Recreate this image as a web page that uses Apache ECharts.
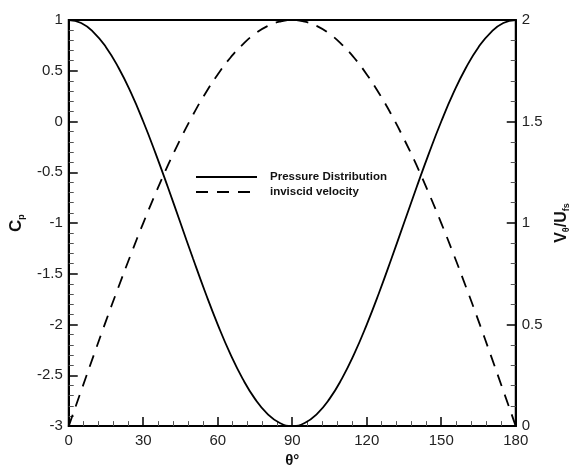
<!DOCTYPE html>
<html>
<head>
<meta charset="utf-8">
<script src="https://cdn.jsdelivr.net/npm/echarts@6/dist/echarts.min.js"></script>
<style>html,body{margin:0;padding:0;background:#fff;}#c{width:579px;height:473px;}</style>
</head>
<body>
<div id="c"></div>
<script>
var theta = [0,5,10,15,20,25,30,35,40,45,50,55,60,65,70,75,80,85,90,95,100,105,110,115,120,125,130,135,140,145,150,155,160,165,170,175,180];
var pressureCp = [1.0,0.970,0.879,0.732,0.532,0.286,0.0,-0.316,-0.653,-1.0,-1.347,-1.684,-2.0,-2.286,-2.532,-2.732,-2.879,-2.970,-3.0,-2.970,-2.879,-2.732,-2.532,-2.286,-2.0,-1.684,-1.347,-1.0,-0.653,-0.316,0.0,0.286,0.532,0.732,0.879,0.970,1.0];
var inviscidVelocity = [0.0,0.174,0.347,0.518,0.684,0.845,1.0,1.147,1.286,1.414,1.532,1.638,1.732,1.813,1.879,1.932,1.970,1.992,2.0,1.992,1.970,1.932,1.879,1.813,1.732,1.638,1.532,1.414,1.286,1.147,1.0,0.845,0.684,0.518,0.347,0.174,0.0];
var seriesNames = ['Pressure Distribution','inviscid velocity'];

function pairs(xs, ys){ return xs.map(function(x,i){ return [x, ys[i]]; }); }

var font = '"Liberation Sans", Arial, sans-serif';
var labelStyle = {color:'#222', fontSize:15, fontFamily:font};
var chart = echarts.init(document.getElementById('c'), null, {renderer:'canvas'});
chart.setOption({
  animation:false,
  backgroundColor:'#fff',
  grid:{left:66, right:55, top:20, bottom:35, show:true, borderColor:'#000', borderWidth:2, containLabel:false},
  legend:{
    orient:'vertical', left:190, top:166, itemWidth:61, itemHeight:12, itemGap:3,
    data:seriesNames,
    itemStyle:{opacity:0},
    textStyle:{color:'#111', fontSize:11.5, fontWeight:'bold', fontFamily:font, padding:[0,0,0,8]},
    selectedMode:false
  },
  xAxis:{
    type:'value', min:0, max:180, interval:30,
    name:'θ°', nameLocation:'middle', nameGap:19,
    nameTextStyle:{color:'#111', fontSize:15, fontWeight:'bold', fontFamily:font, verticalAlign:'top'},
    axisLine:{show:true, onZero:false, lineStyle:{color:'#000', width:2}},
    axisTick:{show:true, inside:true, length:9, lineStyle:{color:'#000', width:1.5}},
    minorTick:{show:true, splitNumber:5, length:5, lineStyle:{color:'#555', width:1}},
    axisLabel:Object.assign({margin:7}, labelStyle),
    splitLine:{show:false}
  },
  yAxis:[{
    type:'value', min:-3, max:1, interval:0.5, position:'left',
    name:'{b|C}{s|p}', nameLocation:'middle', nameGap:28, nameRotate:90,
    nameTextStyle:{rich:{b:{fontSize:17, fontWeight:'bold', color:'#111', fontFamily:font}, s:{fontSize:9, fontWeight:'bold', color:'#111', fontFamily:font, padding:[10,0,0,0]}}},
    axisLine:{show:true, onZero:false, lineStyle:{color:'#000', width:2}},
    axisTick:{show:true, inside:true, length:9, lineStyle:{color:'#000', width:1.5}},
    minorTick:{show:true, splitNumber:5, length:5, lineStyle:{color:'#555', width:1}},
    axisLabel:Object.assign({margin:6}, labelStyle),
    splitLine:{show:false}
  },{
    type:'value', min:0, max:2, interval:0.5, position:'right',
    name:'{b|V}{s|θ}{b|/U}{s|fs}', nameLocation:'middle', nameGap:30, nameRotate:90,
    nameTextStyle:{rich:{b:{fontSize:16, fontWeight:'bold', color:'#111', fontFamily:font}, s:{fontSize:9, fontWeight:'bold', color:'#111', fontFamily:font, padding:[10,0,0,0]}}},
    axisLine:{show:true, onZero:false, lineStyle:{color:'#000', width:2}},
    axisTick:{show:true, inside:true, length:9, lineStyle:{color:'#000', width:1.5}},
    minorTick:{show:true, splitNumber:5, length:5, lineStyle:{color:'#555', width:1}},
    axisLabel:Object.assign({margin:6}, labelStyle),
    splitLine:{show:false}
  }],
  series:[{
    name:seriesNames[0], type:'line', yAxisIndex:0, smooth:true, symbol:'none',
    data:pairs(theta, pressureCp),
    lineStyle:{color:'#000', width:1.8, type:'solid'}, itemStyle:{color:'#000'}
  },{
    name:seriesNames[1], type:'line', yAxisIndex:1, smooth:true, symbol:'none',
    data:pairs(theta, inviscidVelocity),
    lineStyle:{color:'#000', width:1.8, type:[12,9]}, itemStyle:{color:'#000'}
  }]
});
</script>
</body>
</html>
